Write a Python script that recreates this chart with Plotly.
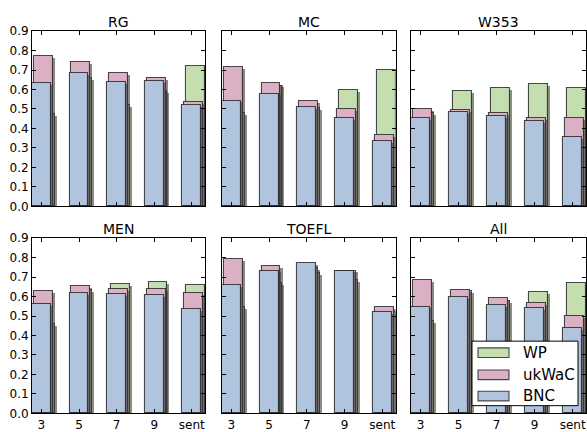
import plotly.graph_objects as go

W, H = 587, 432

categories = ["3", "5", "7", "9", "sent"]
panels = ["RG", "MC", "W353", "MEN", "TOEFL", "All"]

wp = {
    "RG":    [0.475, 0.658, 0.518, 0.593, 0.718],
    "MC":    [0.477, 0.620, 0.505, 0.597, 0.700],
    "W353":  [0.480, 0.593, 0.605, 0.627, 0.609],
    "MEN":   [0.459, 0.632, 0.662, 0.673, 0.658],
    "TOEFL": [0.546, 0.670, 0.721, 0.683, 0.520],
    "All":   [0.474, 0.630, 0.574, 0.625, 0.670],
}
ukwac = {
    "RG":    [0.772, 0.739, 0.683, 0.658, 0.533],
    "MC":    [0.714, 0.634, 0.541, 0.501, 0.368],
    "W353":  [0.500, 0.495, 0.477, 0.452, 0.454],
    "MEN":   [0.627, 0.653, 0.640, 0.637, 0.617],
    "TOEFL": [0.792, 0.757, 0.744, 0.733, 0.546],
    "All":   [0.686, 0.635, 0.591, 0.568, 0.497],
}
bnc = {
    "RG":    [0.634, 0.686, 0.637, 0.645, 0.521],
    "MC":    [0.543, 0.579, 0.511, 0.452, 0.335],
    "W353":  [0.454, 0.482, 0.462, 0.437, 0.355],
    "MEN":   [0.563, 0.617, 0.612, 0.606, 0.535],
    "TOEFL": [0.657, 0.733, 0.771, 0.733, 0.520],
    "All":   [0.548, 0.596, 0.558, 0.538, 0.439],
}

series = [
    ("WP", wp, (196, 222, 176), 0.10),
    ("ukWaC", ukwac, (220, 176, 196), 0.05),
    ("BNC", bnc, (176, 196, 222), 0.0),
]

BAR_W = 0.5
SH_DX = 0.055
SH_DY = 0.01

# pixel layout
col_px = [(32, 205), (222, 395.5), (411, 586)]
row_px = [(25, 207), (240, 422)]

fig = go.Figure()
layout = {}
annotations = []
shapes = []
FONT = "DejaVu Sans"
EDGE = "rgba(30,30,30,0.8)"

for idx, name in enumerate(panels):
    r, c = divmod(idx, 3)
    n = idx + 1
    xa = "x" if n == 1 else f"x{n}"
    ya = "y" if n == 1 else f"y{n}"
    xkey = "xaxis" if n == 1 else f"xaxis{n}"
    ykey = "yaxis" if n == 1 else f"yaxis{n}"
    x0, x1 = col_px[c]
    y0, y1 = row_px[r]
    xs = list(range(len(categories)))
    for sname, data, rgb, off in series:
        vals = data[name]
        shadow = "rgba(%d,%d,%d,0.6)" % tuple(int(v * 0.3) for v in rgb)
        fig.add_trace(go.Bar(
            x=[i + off + SH_DX for i in xs], y=list(vals),
            base=[-SH_DY] * len(vals),
            width=BAR_W, marker=dict(color=shadow, line=dict(width=0)),
            xaxis=xa, yaxis=ya, showlegend=False, hoverinfo="skip"))
        fig.add_trace(go.Bar(
            x=[i + off for i in xs], y=vals, width=BAR_W, name=sname,
            marker=dict(color="rgb(%d,%d,%d)" % rgb,
                        line=dict(color=EDGE, width=1.1)),
            xaxis=xa, yaxis=ya, showlegend=False))
    layout[xkey] = dict(
        domain=[x0 / W, x1 / W], range=[-0.25, 4.35], anchor=ya,
        tickmode="array", tickvals=xs,
        ticktext=categories if r == 1 else [""] * 5,
        showticklabels=(r == 1),
        ticks="inside", ticklen=4, tickcolor="black", mirror="ticks",
        showline=True, linecolor="black", linewidth=1, showgrid=False,
        zeroline=False, tickfont=dict(family=FONT, size=12, color="black"))
    layout[ykey] = dict(
        domain=[(H - y1) / H, (H - y0) / H], range=[0, 0.9], anchor=xa,
        tickmode="array", tickvals=[i / 10 for i in range(10)],
        ticktext=["%.1f" % (i / 10) for i in range(10)],
        showticklabels=(c == 0),
        ticks="inside", ticklen=4, tickcolor="black", mirror="ticks",
        showline=True, linecolor="black", linewidth=1, showgrid=False,
        zeroline=False, tickfont=dict(family=FONT, size=12, color="black"))
    annotations.append(dict(
        text=name, xref="paper", yref="paper",
        x=(x0 + x1) / 2 / W, y=(H - (y0 - 9)) / H,
        xanchor="center", yanchor="middle", showarrow=False,
        font=dict(family=FONT, size=14, color="black")))

# legend drawn in the "All" panel
lx0, lx1 = 472, 578
ly0, ly1 = 347, 414
shapes.append(dict(type="rect", xref="paper", yref="paper",
                   x0=lx0 / W, x1=lx1 / W, y0=(H - ly1) / H, y1=(H - ly0) / H,
                   fillcolor="white", line=dict(color="black", width=1),
                   layer="above"))
entry_y = [359, 382, 404]
for (sname, data, rgb, off), ey in zip(series, entry_y):
    shapes.append(dict(type="rect", xref="paper", yref="paper",
                       x0=478 / W, x1=509 / W,
                       y0=(H - (ey + 5)) / H, y1=(H - (ey - 5)) / H,
                       fillcolor="rgb(%d,%d,%d)" % rgb,
                       line=dict(color=EDGE, width=1.1),
                       layer="above"))
    annotations.append(dict(text=sname, xref="paper", yref="paper",
                            x=521 / W, y=(H - ey) / H, xanchor="left",
                            yanchor="middle", showarrow=False,
                            font=dict(family=FONT, size=15, color="black")))

fig.update_layout(
    width=W, height=H, margin=dict(l=0, r=0, t=0, b=0),
    paper_bgcolor="white", plot_bgcolor="white",
    barmode="overlay", bargap=0, showlegend=False,
    annotations=annotations, shapes=shapes, **layout)

fig.write_html("out.html")
